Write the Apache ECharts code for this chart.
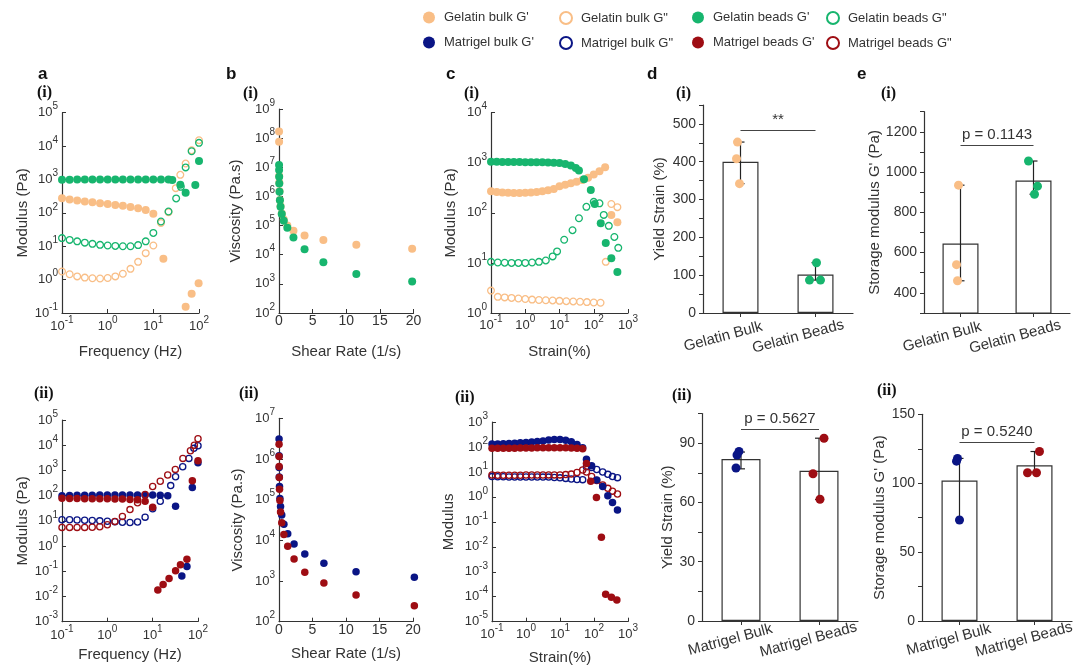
<!DOCTYPE html>
<html><head><meta charset="utf-8">
<script src="https://cdn.jsdelivr.net/npm/echarts@6/dist/echarts.min.js"></script>
<style>html,body{margin:0;padding:0;background:#fff}#c{width:1073px;height:665px}</style>
</head><body><div id="c"></div>
<script>
// ---------------- DATA ----------------
// a(i) frequency sweep, gelatin
const A1_GEL_BULK_GP_X = [0.1,0.147,0.215,0.316,0.464,0.681,1,1.47,2.15,3.16,4.64,6.81,10,16.6,51,69,98];
const A1_GEL_BULK_GP_Y = [275,252,235,220,207,195,183,172,162,150,138,122,94,4.2,0.155,0.38,0.78];
const A1_GEL_BULK_GPP_X = [0.1,0.147,0.215,0.316,0.464,0.681,1,1.47,2.15,3.16,4.64,6.81,10,14.7,21.5,31,39,51,69,100];
const A1_GEL_BULK_GPP_Y = [1.75,1.45,1.25,1.15,1.1,1.08,1.12,1.25,1.5,2.1,3.4,6.2,10.5,50,105,550,1380,3000,7500,15000];
const A1_GEL_BEADS_GP_X = [0.1,0.147,0.215,0.316,0.464,0.681,1,1.47,2.15,3.16,4.64,6.81,10,14.7,21.5,26,39,51,83,100];
const A1_GEL_BEADS_GP_Y = [980,985,990,990,990,995,995,995,995,995,1000,1000,1000,1000,990,960,700,400,680,3600];
const A1_GEL_BEADS_GPP_X = [0.1,0.147,0.215,0.316,0.464,0.681,1,1.47,2.15,3.16,4.64,6.81,10,14.7,21.5,31.6,40,51,69,100];
const A1_GEL_BEADS_GPP_Y = [17.5,15.5,14,12.8,11.8,11,10.5,10.2,10,10,10.8,14,25,55,110,270,600,2300,7000,12500];
// a(ii) frequency sweep, matrigel
const A2_MAT_BULK_GP_X = [0.1,0.147,0.215,0.316,0.464,0.681,1,1.47,2.15,3.16,4.64,6.81,10,14.7,21.5,32,44,57,75,100];
const A2_MAT_BULK_GP_Y = [100,102,103,104,104,105,105,105,105,105,105,105,105,104,100,38,0.065,0.155,210,2000];
const A2_MAT_BULK_GPP_X = [0.1,0.147,0.215,0.316,0.464,0.681,1,1.47,2.15,3.16,4.64,6.81,10,14.7,25,32,46,63,81,100];
const A2_MAT_BULK_GPP_Y = [11,11,10.8,10.5,10.3,10,9.6,9.2,8.8,8.6,9,14,30,60,250,560,1400,3000,7500,9500];
const A2_MAT_BEADS_GP_X = [0.1,0.147,0.215,0.316,0.464,0.681,1,1.47,2.15,3.16,4.64,6.81,10,13,17,23,32,41,57,75,100];
const A2_MAT_BEADS_GP_Y = [78,77,77,76,76,75,75,74,73,71,68,60,35,0.018,0.03,0.052,0.105,0.18,0.3,390,2400];
const A2_MAT_BEADS_GPP_X = [0.1,0.147,0.215,0.316,0.464,0.681,1,1.47,2.15,3.16,4.64,6.81,10,14.7,21.5,31.6,46.4,68.1,83,100];
const A2_MAT_BEADS_GPP_Y = [5.5,5.5,5.5,5.5,5.6,5.8,7,9.5,15,28,52,110,230,370,660,1100,3000,6000,10000,18000];
// b viscosity vs shear rate
const B1_SR = [0.0083,0.0145,0.025,0.044,0.077,0.135,0.23,0.41,0.71,1.24,2.15,3.8,6.6,11.5,19.8];
const B1_GEL_BULK = [1.7e8,7.5e7,5e6,3e6,1.5e6,7.6e5,4.6e5,2.6e5,1.6e5,1.0e5,6.6e4,4.6e4,3.2e4,2.2e4,1.6e4];
const B1_GEL_BEADS = [1.2e7,8e6,4.7e6,2.8e6,1.45e6,7.4e5,4.4e5,2.5e5,1.45e5,8.5e4,3.9e4,1.55e4,5.5e3,2.2e3,1.2e3];
const B2_SR = [0.0083,0.0145,0.025,0.044,0.077,0.135,0.23,0.41,0.73,1.3,2.25,3.85,6.7,11.5,20.2];
const B2_MAT_BULK = [3.1e6,1.2e6,6.2e5,3.6e5,2.1e5,1.07e5,6.8e4,4.2e4,2.5e4,1.45e4,8.1e3,4.6e3,2.75e3,1.7e3,1.23e3];
const B2_MAT_BEADS = [2.3e6,1.15e6,6.5e5,3.5e5,1.8e5,9.5e4,5e4,2.7e4,1.4e4,7.2e3,3.5e3,1.65e3,890,455,245];
// c(i) strain sweep, gelatin
const C1_GEL_BULK_GP_X = [0.1,0.147,0.215,0.316,0.464,0.681,1,1.47,2.15,3.16,4.64,6.81,10,14.7,21.5,31.6,46.4,68.1,100,147,215,326,490];
const C1_GEL_BULK_GP_Y = [270,262,256,252,250,250,252,256,262,270,282,300,340,365,390,420,455,505,580,680,810,91,65];
const C1_GEL_BULK_GPP_X = [0.1,0.158,0.251,0.398,0.631,1,1.58,2.51,3.98,6.31,10,15.8,25.1,39.8,63.1,100,158,224,326,490];
const C1_GEL_BULK_GPP_Y = [2.8,2.1,2.05,2.0,1.95,1.9,1.85,1.82,1.8,1.78,1.75,1.72,1.7,1.68,1.65,1.62,1.6,10.5,150,130];
const C1_GEL_BEADS_GP_X = [0.1,0.147,0.215,0.316,0.464,0.681,1,1.47,2.15,3.16,4.64,6.81,10,14.7,21.5,30,37,52,82,107,160,224,326,490];
const C1_GEL_BEADS_GP_Y = [1050,1045,1040,1040,1035,1035,1030,1030,1025,1020,1010,1000,985,950,880,790,700,470,285,150,62,25,12.4,6.6];
const C1_GEL_BEADS_GPP_X = [0.1,0.158,0.251,0.398,0.631,1,1.58,2.51,3.98,6.31,8.5,13.7,24,37,61,100,147,196,275,400,520];
const C1_GEL_BEADS_GPP_Y = [10.5,10.2,10.1,10,10,10,10.2,10.5,11.2,13.5,17,29,45,78,132,166,155,91,55,33,20];
// c(ii) strain sweep, matrigel
const C2_MAT_BULK_GP_X = [0.1,0.147,0.215,0.316,0.464,0.681,1,1.47,2.15,3.16,4.64,6.81,10,14.7,21.5,31.6,46.4,60,85,120,180,255,350,490];
const C2_MAT_BULK_GP_Y = [130,132,135,138,142,147,152,158,165,175,188,200,198,185,160,125,92,32,17.5,4.8,2.6,1.1,0.59,0.3];
const C2_MAT_BULK_GPP_X = [0.1,0.147,0.215,0.316,0.464,0.681,1,1.47,2.15,3.16,4.64,6.81,10,14.7,21.5,31.6,46.4,60,85,120,180,255,350,490];
const C2_MAT_BULK_GPP_Y = [6.5,6.4,6.4,6.3,6.3,6.3,6.3,6.3,6.3,6.2,6.2,6.0,5.8,5.5,5.2,5.0,4.9,16,15,12.5,10,8,6.5,5.9];
const C2_MAT_BEADS_GP_X = [0.1,0.147,0.215,0.316,0.464,0.681,1,1.47,2.15,3.16,4.64,6.81,10,14.7,21.5,31.6,46.4,60,80,118,165,220,325,470];
const C2_MAT_BEADS_GP_Y = [88,88,88,89,89,90,90,91,92,92,93,93,93,92,90,88,85,22,4.2,0.95,0.024,1.25e-4,9.5e-5,7.4e-5];
const C2_MAT_BEADS_GPP_X = [0.1,0.147,0.215,0.316,0.464,0.681,1,1.47,2.15,3.16,4.64,6.81,10,14.7,21.5,31.6,46.4,60,85,120,180,255,350,490];
const C2_MAT_BEADS_GPP_Y = [7.5,7.4,7.4,7.4,7.4,7.4,7.5,7.5,7.5,7.5,7.6,7.6,7.6,7.8,8.2,9.5,12,10,6.6,4.5,3,2.2,1.7,1.3];
// d / e bar panels
const D1_CATS = ['Gelatin Bulk','Gelatin Beads'];
const D1_MEAN = [400,102];
const D1_LOW = [342,87];
const D1_HIGH = [452,133];
const D1_DOTS_BULK = [452,408,342];
const D1_DOTS_BEADS = [133,87,87];
const D1_SIG = 482;
const D1_SIG_TEXT = '**';
const E1_CATS = ['Gelatin Bulk','Gelatin Beads'];
const E1_MEAN = [645,958];
const E1_LOW = [460,890];
const E1_HIGH = [935,1055];
const E1_DOTS_BULK = [935,540,460];
const E1_DOTS_BEADS = [1055,930,890];
const E1_SIG = 1134;
const E1_SIG_TEXT = 'p = 0.1143';
const D2_CATS = ['Matrigel Bulk','Matrigel Beads'];
const D2_MEAN = [82,76];
const D2_LOW = [77,61.5];
const D2_HIGH = [85.5,92.5];
const D2_DOTS_BULK = [85.8,84,77.4];
const D2_DOTS_BEADS = [92.5,74.5,61.6];
const D2_SIG = 97;
const D2_SIG_TEXT = 'p = 0.5627';
const E2_CATS = ['Matrigel Bulk','Matrigel Beads'];
const E2_MEAN = [102,113];
const E2_LOW = [73,108];
const E2_HIGH = [118,123];
const E2_DOTS_BULK = [118,116,73.3];
const E2_DOTS_BEADS = [123,107.6,107.6];
const E2_SIG = 130;
const E2_SIG_TEXT = 'p = 0.5240';

const NAMES = ["Gelatin bulk G'", 'Gelatin bulk G"', "Gelatin beads G'", 'Gelatin beads G"',
               "Matrigel bulk G'", 'Matrigel bulk G"', "Matrigel beads G'", 'Matrigel beads G"'];

// ---------------- STYLE ----------------
const FONT = '"Liberation Sans", Arial, sans-serif';
const SERIF = '"Liberation Serif", "Times New Roman", serif';
const TXT = '#333';
const COL = {o:'#F9BE86', g:'#17B56E', n:'#0A1585', r:'#9E0D13'};
const AXL = {show:true, onZero:false, lineStyle:{color:'#333', width:1.2}};
const RICH = {
  b:{fontSize:13, lineHeight:22, color:TXT, fontFamily:FONT},
  s:{fontSize:10, lineHeight:12, verticalAlign:'top', color:TXT, fontFamily:FONT}
};
const powFmt = v => '{b|10}{s|' + Math.round(Math.log10(v)) + '}';

const GRIDS = [
  {left:62, top:112.7, width:137, height:200.3},
  {left:279, top:109, width:134.5, height:204},
  {left:491, top:112.7, width:137, height:200.3},
  {left:703, top:105, width:150, height:208},
  {left:924, top:111.7, width:146, height:201.3},
  {left:62, top:420, width:136, height:201.7},
  {left:279, top:418.3, width:134, height:203.4},
  {left:492, top:422, width:136, height:199.7},
  {left:702, top:413.5, width:156, height:207.5},
  {left:922, top:414.3, width:150, height:206.7}
];

const nameStyle = {fontSize:15, color:TXT, fontFamily:FONT};
function logAxis(grid, min, max, name, gap, margin){
  return {type:'log', logBase:10, gridIndex:grid, min, max, name, nameLocation:'middle', nameGap:gap,
    nameTextStyle:nameStyle, axisLine:AXL,
    axisTick:{show:true, inside:true, length:4, lineStyle:{color:'#333'}},
    axisLabel:{formatter:powFmt, rich:RICH, margin, color:TXT, fontFamily:FONT, fontSize:13},
    splitLine:{show:false}};
}
function linX(grid, name, gap){
  return {type:'value', gridIndex:grid, min:0, max:20, interval:5, name, nameLocation:'middle', nameGap:gap,
    nameTextStyle:nameStyle, axisLine:AXL,
    axisTick:{show:true, inside:true, length:4, lineStyle:{color:'#333'}},
    axisLabel:{margin:1, color:TXT, fontFamily:FONT, fontSize:14},
    splitLine:{show:false}};
}
function catX(grid, cats, margin, shift){
  return {type:'category', gridIndex:grid, data:cats, boundaryGap:true, axisLine:AXL,
    axisTick:{show:true, alignWithLabel:true, length:4, lineStyle:{color:'#333'}},
    axisLabel:{rotate:15, align:'center', verticalAlign:'middle', margin, padding:[0, 2*shift, 0, 0],
      color:TXT, fontFamily:FONT, fontSize:15, interval:0},
    splitLine:{show:false}};
}
function barY(grid, min, max, interval, step, name, gap){
  return {type:'value', gridIndex:grid, min, max, interval, name, nameLocation:'middle', nameGap:gap,
    nameTextStyle:nameStyle, axisLine:AXL,
    axisTick:{show:true, length:4, lineStyle:{color:'#333'}},
    axisLabel:{margin:7, color:TXT, fontFamily:FONT, fontSize:14,
      formatter: v => (Math.abs(v % step) < 1e-9 && v < max) ? String(v) : ''},
    splitLine:{show:false}};
}

function sc(name, xs, ys, color, open, ax, size){
  return {name, type:'scatter', xAxisIndex:ax, yAxisIndex:ax, clip:false,
    data: xs.map((x,i)=>[x, ys[i]]), symbol:'circle',
    symbolSize: open ? size - 1.3 : size,
    itemStyle: open ? {color:'rgba(255,255,255,0)', borderColor:color, borderWidth:1.3, opacity:1}
                    : {color:color, borderWidth:0, opacity:1},
    emphasis:{disabled:true}, silent:true, animation:false};
}

const JIT = {
  d1:[[-3,-4,-1],[1,-6,5]],
  e1:[[-2,-4,-3],[-5,4,1]],
  d2:[[-2,-4,-5],[5,-6,1]],
  e2:[[-2,-3,0],[5,-7,2]]
};
function barPanel(ax, cats, mean, lo, hi, dotsA, dotsB, colA, colB, jit, barW, sigY, sigText){
  const st = {stroke:'#222', lineWidth:1.2};
  return [
    {name:'bar'+ax, type:'bar', xAxisIndex:ax, yAxisIndex:ax, data:mean, barWidth:barW, z:2,
     itemStyle:{color:'#fff', borderColor:'#333', borderWidth:1.2}, emphasis:{disabled:true}, silent:true,
     markLine:{silent:true, symbol:['none','none'], animation:false,
       lineStyle:{color:'#444', width:1.2, type:'solid'},
       label:{show:true, position:'middle', formatter:sigText, fontSize:15, color:TXT, fontFamily:FONT, distance:3},
       data:[[{coord:[cats[0], sigY]}, {coord:[cats[1], sigY]}]]}},
    {name:'err'+ax, type:'custom', xAxisIndex:ax, yAxisIndex:ax, z:3, silent:true,
     data: lo.map((l,i)=>[i, l, hi[i]]), encode:{x:0, y:[1,2]},
     renderItem:(params, api) => {
       const i = api.value(0);
       const p1 = api.coord([i, api.value(1)]), p2 = api.coord([i, api.value(2)]);
       return {type:'group', children:[
         {type:'line', shape:{x1:p1[0], y1:p1[1], x2:p2[0], y2:p2[1]}, style:st},
         {type:'line', shape:{x1:p2[0]-4, y1:p2[1], x2:p2[0]+4, y2:p2[1]}, style:st},
         {type:'line', shape:{x1:p1[0]-4, y1:p1[1], x2:p1[0]+4, y2:p1[1]}, style:st}]};
     }},
    {name:'dotsA'+ax, type:'scatter', xAxisIndex:ax, yAxisIndex:ax, z:4, silent:true, symbolSize:9,
     itemStyle:{color:colA, opacity:1}, data: dotsA.map((v,k)=>({value:[0, v], symbolOffset:[jit[0][k], 0]}))},
    {name:'dotsB'+ax, type:'scatter', xAxisIndex:ax, yAxisIndex:ax, z:4, silent:true, symbolSize:9,
     itemStyle:{color:colB, opacity:1}, data: dotsB.map((v,k)=>({value:[1, v], symbolOffset:[jit[1][k], 0]}))}
  ];
}

const titles = [];
[['a',38,66],['b',226,66],['c',446,66],['d',647,66],['e',857,66]].forEach(t =>
  titles.push({text:t[0], left:t[1], top:t[2], padding:0,
    textStyle:{fontSize:17, fontWeight:'bold', color:'#111', fontFamily:FONT}}));
[['(i)',37,85],['(i)',243,86],['(i)',464,86],['(i)',676,86],['(i)',881,86],
 ['(ii)',34,386],['(ii)',239,386],['(ii)',455,390],['(ii)',672,388],['(ii)',877,383]].forEach(t =>
  titles.push({text:t[0], left:t[1], top:t[2], padding:0,
    textStyle:{fontSize:16, fontWeight:'bold', color:'#111', fontFamily:SERIF}}));

const LEG_LEFT = [423, 559, 692, 826];
const legends = NAMES.map((n,i) => ({
  data:[n], left:LEG_LEFT[i%4], top: i < 4 ? 11 : 36, padding:0, itemWidth:12, itemHeight:12, icon:'circle',
  selectedMode:false, itemStyle: (i%2===1) ? {borderWidth:2} : {},
  textStyle:{fontSize:13, color:TXT, fontFamily:FONT, padding:[0,0,0,4]}
}));

const xAxis = [
  logAxis(0, 0.1, 100, 'Frequency (Hz)', 31, 2),
  linX(1, 'Shear Rate (1/s)', 31),
  logAxis(2, 0.1, 1000, 'Strain(%)', 31, 1),
  catX(3, D1_CATS, 19, 18),
  catX(4, E1_CATS, 19, 19),
  logAxis(5, 0.1, 100, 'Frequency (Hz)', 26, 3),
  linX(6, 'Shear Rate (1/s)', 25),
  logAxis(7, 0.1, 1000, 'Strain(%)', 29, 2),
  catX(8, D2_CATS, 16, 11),
  catX(9, E2_CATS, 16, 11)
];
const yAxis = [
  logAxis(0, 0.1, 1e5, 'Modulus (Pa)', 32, 4),
  logAxis(1, 100, 1e9, 'Viscosity (Pa.s)', 36, 4),
  logAxis(2, 1, 1e4, 'Modulus (Pa)', 33, 4),
  barY(3, 0, 550, 50, 100, 'Yield Strain (%)', 36),
  barY(4, 300, 1300, 100, 200, "Storage modulus G' (Pa)", 42),
  logAxis(5, 0.001, 1e5, 'Modulus (Pa)', 32, 4),
  logAxis(6, 100, 1e7, 'Viscosity (Pa.s)', 34, 4),
  logAxis(7, 1e-5, 1000, 'Modulus', 36, 4),
  barY(8, 0, 105, 15, 30, 'Yield Strain (%)', 26),
  barY(9, 0, 150, 25, 50, "Storage modulus G' (Pa)", 31)
];
yAxis[4].axisLabel.formatter = v => (v % 200 === 0 && v >= 400 && v <= 1200) ? String(v) : '';
yAxis[9].axisLabel.formatter = v => (v % 50 === 0) ? String(v) : '';

const series = [
  sc(NAMES[0], A1_GEL_BULK_GP_X, A1_GEL_BULK_GP_Y, COL.o, false, 0, 8),
  sc(NAMES[1], A1_GEL_BULK_GPP_X, A1_GEL_BULK_GPP_Y, COL.o, true, 0, 8),
  sc(NAMES[2], A1_GEL_BEADS_GP_X, A1_GEL_BEADS_GP_Y, COL.g, false, 0, 8),
  sc(NAMES[3], A1_GEL_BEADS_GPP_X, A1_GEL_BEADS_GPP_Y, COL.g, true, 0, 8),
  sc(NAMES[0], B1_SR, B1_GEL_BULK, COL.o, false, 1, 8),
  sc(NAMES[2], B1_SR, B1_GEL_BEADS, COL.g, false, 1, 8),
  sc(NAMES[0], C1_GEL_BULK_GP_X, C1_GEL_BULK_GP_Y, COL.o, false, 2, 8),
  sc(NAMES[1], C1_GEL_BULK_GPP_X, C1_GEL_BULK_GPP_Y, COL.o, true, 2, 8),
  sc(NAMES[2], C1_GEL_BEADS_GP_X, C1_GEL_BEADS_GP_Y, COL.g, false, 2, 8),
  sc(NAMES[3], C1_GEL_BEADS_GPP_X, C1_GEL_BEADS_GPP_Y, COL.g, true, 2, 8),
  sc(NAMES[4], A2_MAT_BULK_GP_X, A2_MAT_BULK_GP_Y, COL.n, false, 5, 7.5),
  sc(NAMES[5], A2_MAT_BULK_GPP_X, A2_MAT_BULK_GPP_Y, COL.n, true, 5, 7.5),
  sc(NAMES[6], A2_MAT_BEADS_GP_X, A2_MAT_BEADS_GP_Y, COL.r, false, 5, 7.5),
  sc(NAMES[7], A2_MAT_BEADS_GPP_X, A2_MAT_BEADS_GPP_Y, COL.r, true, 5, 7.5),
  sc(NAMES[4], B2_SR, B2_MAT_BULK, COL.n, false, 6, 7.5),
  sc(NAMES[6], B2_SR, B2_MAT_BEADS, COL.r, false, 6, 7.5),
  sc(NAMES[5], C2_MAT_BULK_GPP_X, C2_MAT_BULK_GPP_Y, COL.n, true, 7, 7.5),
  sc(NAMES[7], C2_MAT_BEADS_GPP_X, C2_MAT_BEADS_GPP_Y, COL.r, true, 7, 7.5),
  sc(NAMES[4], C2_MAT_BULK_GP_X, C2_MAT_BULK_GP_Y, COL.n, false, 7, 7.5),
  sc(NAMES[6], C2_MAT_BEADS_GP_X, C2_MAT_BEADS_GP_Y, COL.r, false, 7, 7.5),
  ...barPanel(3, D1_CATS, D1_MEAN, D1_LOW, D1_HIGH, D1_DOTS_BULK, D1_DOTS_BEADS, COL.o, COL.g, JIT.d1, 36, D1_SIG, D1_SIG_TEXT),
  ...barPanel(4, E1_CATS, E1_MEAN, E1_LOW, E1_HIGH, E1_DOTS_BULK, E1_DOTS_BEADS, COL.o, COL.g, JIT.e1, 36, E1_SIG, E1_SIG_TEXT),
  ...barPanel(8, D2_CATS, D2_MEAN, D2_LOW, D2_HIGH, D2_DOTS_BULK, D2_DOTS_BEADS, COL.n, COL.r, JIT.d2, 39, D2_SIG, D2_SIG_TEXT),
  ...barPanel(9, E2_CATS, E2_MEAN, E2_LOW, E2_HIGH, E2_DOTS_BULK, E2_DOTS_BEADS, COL.n, COL.r, JIT.e2, 36, E2_SIG, E2_SIG_TEXT)
];

const chart = echarts.init(document.getElementById('c'), null, {renderer:'canvas'});
chart.setOption({
  animation:false, backgroundColor:'#fff',
  textStyle:{fontFamily:FONT},
  title:titles, legend:legends,
  grid:GRIDS.map(g => Object.assign({containLabel:false, outerBoundsMode:'none'}, g)),
  xAxis, yAxis, series
});
</script></body></html>
